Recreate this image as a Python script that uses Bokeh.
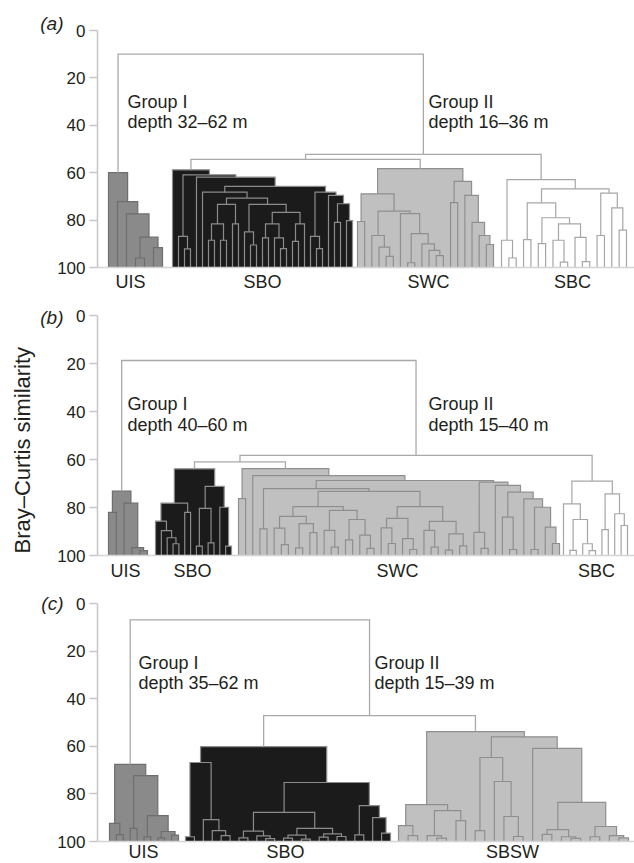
import numpy as np
from bokeh.plotting import figure
from bokeh.layouts import column
from bokeh.models import Range1d, FixedTicker, LinearAxis, Span, Title
from bokeh.core.properties import value
from bokeh.embed import file_html
from bokeh.resources import INLINE

# Dendrograms of Bray–Curtis similarity (%).
# A cluster tree is [merge similarity, left, right]; 0 stands for a single site.

# ---- (a) ----
UIS_A = [60, 0, [72.2, 0, [77.4, 0, [87.2, [96, 0, 0], [91.6, 0, 0]]]]]
SBO_A = [58.8, 0,
         [60.9, [86.9, 0, [92.1, 0, 0]],
          [61.9, 0,
           [65.8,
            [68.2, 0,
             [70.7,
              [73.4, [81.6, [88.5, 0, 0], [88.5, 0, 0]], [81.6, 0, 0]],
              [73.4, [85.0, 0, [90.5, 0, 0]],
               [76.7, [81.6, [87.5, 0, 0], [87.5, 0, [92, 0, 0]]],
                [81.6, [89, 0, 0], 0]]]]],
            [68.2, [86.9, 0, [92, 0, 0]],
             [69.6, 0, [73.1, [81, 0, 0], [80.2, 0, 0]]]]]]]]
SWC_A = [58.3,
         [68.9, [80.6, 0, 0],
          [76.2, [86.5, 0, [91.4, 0, [95.3, 0, 0]]],
           [77.3, 0, [85.7, [98, 0, 0], [90, 0, [92.8, 0, [95, 0, 0]]]]]]],
         [63.7, [72.6, 0, 0],
          [69.6, 0, [81, 0, [86.5, 0, [90.3, 0, 0]]]]]]
SBC_A = [62.9,
         [88.5, 0, [96, 0, 0]],
         [66.8,
          [72.7, [88.2, 0, 0],
           [79, [89.9, 0, 0],
            [81.6, [88.5, 0, [97.7, 0, 0]], [87.3, 0, [97.5, 0, 0]]]]],
          [68.6, [86.5, 0, 0], [74.8, 0, [84.2, 0, 0]]]]]
LINKS_A = [10, "UIS", [52.3, [54.4, "SBO", "SWC"], "SBC"]]
DEPTHS_A = ("32–62", "16–36")

# ---- (b) ----
UIS_B = [73.2, [82, 0, 0], [78.2, 0, [96.7, 0, [98, 0, 0]]]]
SBO_B = [63.9,
         [78.2, [85.7, 0, [89.6, 0, [92.6, 0, [95.1, 0, 0]]]], [82, 0, 0]],
         [71.2, [80.4, [96.1, 0, 0], [94.7, 0, 0]], [79.9, 0, [96.1, 0, 0]]]]
SWC_B = [63.8, [76.3, 0, 0],
         [66.7, 0,
          [68.75,
           [72.1, [88.9, 0, 0],
            [73.3,
             [79.6,
              [83.7, [88.6, 0, [95.5, 0, 0]], [86.7, [96.8, 0, 0], [90.5, 0, 0]]],
              [81.2, [89.5, 0, [96.5, 0, 0]], [85, [93.5, 0, 0], [91.5, 0, [97, 0, 0]]]]],
             [79.6,
              [84.5, [88.5, 0, [95, 0, 0]], [93, 0, [97.5, 0, 0]]],
              [85.8, [89.5, 0, [96.5, 0, 0]], [91, [97.8, 0, 0], [96, 0, 0]]]]]],
           [69.4, [90.4, 0, [97, 0, 0]],
            [70.8, 0,
             [73.6, [84, 0, [97.5, 0, 0]],
              [76.4, 0, [79.9, [97.5, 0, 0], [88.2, 0, [95, 0, 0]]]]]]]]]]
SBC_B = [69,
         [78.5, 0, [85, [97.9, 0, 0], [95.1, 0, [98, 0, 0]]]],
         [74.3, [89.2, 0, 0], [82.6, 0, [87.5, 0, 0]]]]
LINKS_B = [18.75, "UIS", [58.3, [61, "SBO", "SWC"], "SBC"]]
DEPTHS_B = ("40–60", "15–40")

# ---- (c) ----
UIS_C = [67.6, [92.4, 0, [97.1, 0, 0]],
         [72.3, [94.5, 0, 0], [89.1, [98, 0, 0], [95.8, [98.5, 0, 0], [97.3, 0, 0]]]]]
SBO_C = [60.1,
         [66.8, [98, 0, 0], [90.8, 0, [95.4, 0, [97.5, 0, 0]]]],
         [75.2,
          [87.8,
           [95.6, [98.5, 0, 0], [97.6, 0, [98.8, 0, 0]]],
           [94.5, [97.3, [98.6, 0, 0], [99, 0, 0]], [96.8, [98.2, 0, 0], [97.9, 0, 0]]]],
          [84.9, [97.2, 0, 0], [90, 0, [96.5, 0, 0]]]]]
SBSW_C = [53.8,
          [84.5, [93.3, 0, [97.5, 0, 0]], [87, [97.5, 0, [98.6, 0, 0]], [91.2, 0, 0]]],
          [56,
           [64.7, [95.4, 0, 0], [74.8, 0, [89.5, 0, [97.9, 0, 0]]]],
           [60.9, 0,
            [83.6, [95, [97, 0, 0], [98, 0, [98.7, 0, 0]]],
             [93.7, [98, 0, 0], [97.5, 0, [98.5, 0, 0]]]]]]]
LINKS_C = [6.9, "UIS", [47.1, "SBO", "SBSW"]]
DEPTHS_C = ("35–62", "15–39")

TICKS = [0, 20, 40, 60, 80, 100]

# ---- page layout (x in page pixels) ----
LAYOUT = {
    "a": dict(height=293, t0=30, t100=267,
              spans={"UIS": (108, 162), "SBO": (172, 352), "SWC": (357, 493), "SBC": (501, 626)},
              group_x=(127, 428), group_y=(30.0, 38.4), name_y=106.2,
              name_x={"UIS": 130, "SBO": 262, "SWC": 428, "SBC": 572}, letter_y=-3),
    "b": dict(height=287, t0=22, t100=262,
              spans={"UIS": (108, 147), "SBO": (155, 231), "SWC": (238, 559), "SBC": (563, 627)},
              group_x=(127, 428), group_y=(36.7, 45.8), name_y=106.6,
              name_x={"UIS": 125, "SBO": 192, "SWC": 397, "SBC": 596}, letter_y=1),
    "c": dict(height=283, t0=23, t100=261,
              spans={"UIS": (109, 178), "SBO": (185, 390), "SBSW": (398, 628)},
              group_x=(138, 374), group_y=(24.8, 33.6), name_y=104.6,
              name_x={"UIS": 143, "SBO": 285, "SBSW": 512}, letter_y=0),
}

FONT = "Liberation Sans"
TEXT_COLOR = "#231f20"
AXIS_COLOR = "#c8c8c8"
LINK_COLOR = "#a9a9a9"
STYLE = {  # fill, branch line
    "UIS": ("#8a8a8a", "#6e6e6e"),
    "SBO": ("#1b1b1b", "#8c8c8c"),
    "SWC": ("#c0c0c0", "#8f8f8f"),
    "SBSW": ("#c0c0c0", "#8f8f8f"),
    "SBC": ("#ffffff", "#a6a6a6"),
}


def count_leaves(node):
    if node == 0:
        return 1
    return count_leaves(node[1]) + count_leaves(node[2])


def place(node, xs, paths, quads):
    """Lay out a cluster tree; returns (x, similarity) of its top."""
    if node == 0:
        return next(xs), 100.0
    h, left, right = node
    xl, hl = place(left, xs, paths, quads)
    xr, hr = place(right, xs, paths, quads)
    paths.append(([xl, xl, xr, xr], [hl, h, h, hr]))
    quads.append((xl, xr, h))
    return (xl + xr) / 2.0, h


def make_panel(letter, clusters, links, depths, ylabel=None):
    lay = LAYOUT[letter]
    H, t0, t100 = lay["height"], lay["t0"], lay["t100"]
    k = (t100 - t0) / 100.0
    p = figure(width=634, height=H, x_range=Range1d(97, 634),
               y_range=Range1d(100 + (H - t100) / k, -t0 / k),
               output_backend="svg", toolbar_location=None, x_axis_location=None,
               min_border_left=97, min_border_right=0, min_border_top=0, min_border_bottom=0)
    p.outline_line_color = None
    p.grid.visible = False
    p.background_fill_color = "white"

    ax = p.yaxis[0]
    ax.ticker = FixedTicker(ticks=TICKS)
    ax.bounds = (0, 100)
    ax.axis_line_color = AXIS_COLOR
    ax.axis_line_width = 1.6
    ax.major_tick_line_color = AXIS_COLOR
    ax.major_tick_line_width = 1.6
    ax.major_tick_out = 8
    ax.major_tick_in = 0
    ax.minor_tick_line_color = None
    ax.major_label_text_font = FONT
    ax.major_label_text_font_size = "17px"
    ax.major_label_text_color = TEXT_COLOR
    ax.major_label_standoff = 4

    # outer axis: carries the panel letter
    ly = lay["letter_y"]
    lab = LinearAxis(ticker=FixedTicker(ticks=[ly]),
                     major_label_overrides={ly: f"({letter})"},
                     axis_line_color=None, major_tick_line_color=None,
                     minor_tick_line_color=None, major_tick_out=0, major_tick_in=0,
                     major_label_standoff=-9,
                     major_label_text_font=FONT, major_label_text_font_size="19px",
                     major_label_text_font_style="italic",
                     major_label_text_color=TEXT_COLOR)
    p.add_layout(lab, "left")

    if ylabel:
        p.add_layout(Title(text=ylabel, align="left", offset=27, standoff=6,
                           text_font=FONT, text_font_size="22px", text_font_style="normal",
                           text_color=TEXT_COLOR), "left")

    p.add_layout(Span(location=100, dimension="width", line_color="#d4d4d4", line_width=1.5))

    cluster_paths = {}
    cluster_quads = {}
    link_paths = []

    def walk(node):
        if isinstance(node, str):
            tree = clusters[node]
            x0, x1 = lay["spans"][node]
            xs = iter(np.linspace(x0, x1, count_leaves(tree)))
            cluster_paths[node] = []
            cluster_quads[node] = []
            return place(tree, xs, cluster_paths[node], cluster_quads[node])
        h, left, right = node
        xl, hl = walk(left)
        xr, hr = walk(right)
        link_paths.append(([xl, xl, xr, xr], [hl, h, h, hr]))
        return (xl + xr) / 2.0, h

    walk(links)

    for name, qs in cluster_quads.items():
        p.quad(left=[q[0] for q in qs], right=[q[1] for q in qs],
               top=[q[2] for q in qs], bottom=[100] * len(qs),
               fill_color=STYLE[name][0], line_color=None)
    for name, ps in cluster_paths.items():
        p.multi_line(xs=[a for a, _ in ps], ys=[b for _, b in ps],
                     line_color=STYLE[name][1], line_width=1.2, line_join="miter")
    p.multi_line(xs=[a for a, _ in link_paths], ys=[b for _, b in link_paths],
                 line_color=LINK_COLOR, line_width=1.3, line_join="miter")

    gx1, gx2 = lay["group_x"]
    gy1, gy2 = lay["group_y"]
    p.text(x=[gx1, gx1, gx2, gx2], y=[gy1, gy2, gy1, gy2],
           text=["Group I", f"depth {depths[0]} m", "Group II", f"depth {depths[1]} m"],
           text_font=value(FONT), text_font_size="18px", text_color=TEXT_COLOR,
           text_align="left", text_baseline="middle")

    names = list(lay["name_x"].keys())
    p.text(x=[lay["name_x"][n] for n in names], y=[lay["name_y"]] * len(names), text=names,
           text_font=value(FONT), text_font_size="18px", text_color=TEXT_COLOR,
           text_align="center", text_baseline="middle")
    return p


pa = make_panel("a", {"UIS": UIS_A, "SBO": SBO_A, "SWC": SWC_A, "SBC": SBC_A}, LINKS_A, DEPTHS_A)
pb = make_panel("b", {"UIS": UIS_B, "SBO": SBO_B, "SWC": SWC_B, "SBC": SBC_B}, LINKS_B, DEPTHS_B,
                ylabel="Bray–Curtis similarity")
pc = make_panel("c", {"UIS": UIS_C, "SBO": SBO_C, "SBSW": SBSW_C}, LINKS_C, DEPTHS_C)

layout = column(pa, pb, pc, spacing=0)
open("out.html", "w").write(file_html(layout, INLINE))
